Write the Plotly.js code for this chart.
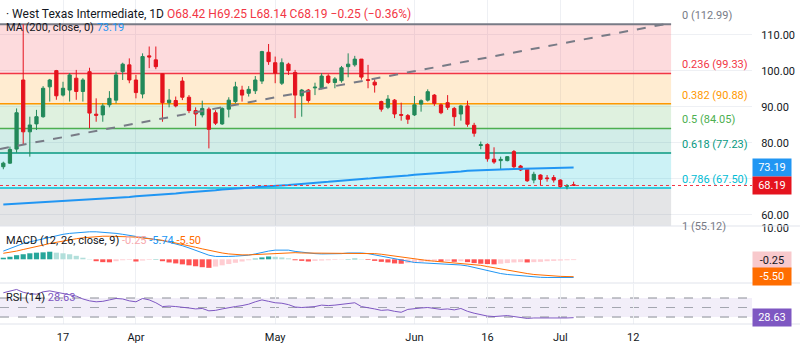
<!DOCTYPE html>
<html><head><meta charset="utf-8">
<script src="https://cdn.plot.ly/plotly-3.0.1.min.js"></script>
<style>html,body{margin:0;padding:0;background:#fff;}#chart{width:800px;height:358px;}</style>
</head><body><div id="chart"></div>
<script>
// ---- data (bar index 0..86, daily) ----
const barIdx = Array.from({length: 87}, (_, i) => i);
const openP  = [73.4,74.4,78.3,97.5,83.1,85.3,87.3,95.6,100.1,93.3,94.7,98.0,94.3,99.8,88.0,87.8,90.6,91.9,99.8,101.7,97.5,93.6,104.2,103.1,99.2,91.2,91.8,97.2,92.7,89.0,87.8,89.4,88.4,85.3,89.4,91.5,94.7,93.8,94.5,97.2,105.2,102.3,96.6,101.9,99.6,93.1,94.7,95.3,95.2,98.6,96.8,97.3,101.2,101.7,103.3,97.6,96.9,91.5,89.9,91.9,87.9,87.6,87.8,90.8,91.9,93.3,90.6,91.2,89.6,88.05,90.3,84.9,79.3,79.6,75.5,75.1,75.1,77.6,73.6,72.7,69.7,71.1,70.3,70.4,69.7,68.0,68.42];
const highP  = [74.8,79.0,89.6,112.99,87.3,89.2,95.8,97.8,100.3,97.0,99.4,100.3,98.0,100.9,92.4,91.0,94.4,99.8,102.3,103.5,98.9,104.9,106.8,106.8,99.4,95.0,92.9,98.3,93.3,89.9,91.75,89.9,89.1,89.9,92.7,97.0,95.9,95.8,98.6,105.6,107.5,104.0,103.5,102.3,100.3,95.0,95.0,96.75,99.4,99.1,98.3,101.4,104.9,104.2,103.3,101.7,97.7,91.75,93.3,92.2,91.2,88.05,93.05,92.1,94.9,93.6,91.0,93.3,90.0,90.6,91.75,85.6,80.4,79.9,78.8,76.2,76.3,78.05,73.9,73.0,72.0,71.3,71.1,71.1,69.9,68.6,69.25];
const lowP   = [72.7,74.2,77.3,79.7,76.2,83.6,87.0,91.5,92.0,92.9,91.5,92.0,91.5,84.1,85.9,85.9,89.9,91.0,97.5,96.6,92.4,92.4,100.8,100.5,85.9,89.9,89.9,91.9,88.3,84.7,87.1,78.5,85.0,85.0,87.1,91.0,91.5,92.9,93.6,96.4,101.7,96.6,96.1,98.9,86.9,87.3,91.2,93.3,94.9,96.4,95.2,96.75,98.25,101.2,97.6,95.2,94.0,88.7,89.4,86.9,86.2,85.3,87.5,88.7,91.5,90.3,88.0,89.2,84.7,86.2,84.5,81.75,78.25,74.8,74.2,72.7,74.9,72.7,72.2,69.2,68.8,68.3,69.25,69.0,67.6,67.1,68.14];
const closeP = [74.4,78.2,88.4,83.1,85.0,87.3,95.2,97.5,93.1,95.2,98.9,94.3,97.5,88.3,87.7,90.3,92.4,98.9,101.9,97.5,94.0,104.0,103.9,101.2,91.2,91.9,90.3,92.7,89.0,88.05,89.6,83.8,85.5,89.6,91.9,95.6,93.3,94.9,97.5,105.4,102.6,99.4,102.3,100.1,93.3,94.7,91.8,95.5,98.6,96.8,97.8,100.9,101.9,103.3,98.3,97.4,96.1,89.4,92.2,88.05,87.7,86.6,90.6,91.75,94.25,91.0,88.4,89.9,87.3,90.3,85.2,82.7,79.5,75.6,74.7,75.45,76.2,73.4,72.5,69.5,71.3,69.9,70.1,69.7,67.9,68.1,68.19];
const ma200  = [62.9,63.0,63.1,63.3,63.4,63.5,63.6,63.7,63.8,63.9,64.0,64.1,64.2,64.3,64.4,64.6,64.7,64.8,64.9,65.0,65.2,65.3,65.4,65.6,65.7,65.9,66.0,66.2,66.3,66.5,66.6,66.8,66.9,67.1,67.2,67.3,67.5,67.6,67.8,67.9,68.0,68.1,68.2,68.3,68.5,68.6,68.8,68.9,69.1,69.2,69.4,69.5,69.7,69.8,70.0,70.1,70.3,70.4,70.6,70.7,70.9,71.0,71.2,71.3,71.5,71.6,71.75,71.9,72.0,72.1,72.3,72.4,72.5,72.55,72.6,72.65,72.7,72.75,72.8,72.85,72.9,72.95,73.0,73.05,73.1,73.15,73.19];
const macdLine = [2.6,3.4,4.3,5.0,5.5,6.0,6.6,7.1,7.6,7.9,8.2,8.4,8.6,8.7,8.7,8.6,8.4,8.2,7.9,7.6,7.3,7.0,6.7,6.3,5.9,5.4,4.9,4.3,3.6,2.8,2.0,1.3,0.9,0.8,0.9,1.0,1.1,1.3,1.7,2.2,2.6,2.9,3.0,2.9,2.5,2.2,1.9,1.8,1.7,1.7,1.7,1.8,2.0,2.1,2.0,1.8,1.4,0.9,0.4,0.0,-0.4,-0.8,-1.0,-1.1,-1.2,-1.3,-1.3,-1.4,-1.6,-1.8,-2.1,-2.6,-3.2,-3.7,-4.2,-4.5,-4.8,-5.0,-5.2,-5.4,-5.6,-5.7,-5.75,-5.8,-5.8,-5.78,-5.74];
const signalLine = [1.9,2.2,2.6,3.1,3.5,4.0,4.5,5.0,5.4,5.9,6.2,6.5,6.8,7.0,7.2,7.3,7.3,7.3,7.2,7.1,7.0,6.8,6.6,6.3,6.0,5.6,5.2,4.8,4.3,3.8,3.3,2.8,2.4,2.0,1.7,1.5,1.4,1.4,1.5,1.6,1.7,1.9,2.0,2.1,2.1,2.0,2.0,1.9,1.9,1.8,1.8,1.8,1.8,1.9,1.9,1.9,1.8,1.6,1.3,1.0,0.6,0.3,0.0,-0.2,-0.4,-0.6,-0.8,-0.9,-1.0,-1.2,-1.4,-1.6,-1.9,-2.3,-2.7,-3.1,-3.5,-3.9,-4.2,-4.5,-4.8,-5.0,-5.2,-5.3,-5.4,-5.45,-5.50];
const macdHist = [0.5,0.8,1.3,1.6,1.9,2.1,2.2,2.4,2.1,1.9,1.6,1.1,0.5,0.1,-0.6,-0.9,-0.95,-0.6,-0.3,-0.2,-0.7,-0.4,-0.2,0.1,-0.6,-1.0,-1.3,-1.6,-1.9,-2.2,-2.5,-2.7,-2.3,-1.9,-1.5,-1.1,-0.7,-0.3,0.2,0.6,0.9,0.8,0.6,0.3,-0.3,-0.5,-0.7,-0.5,-0.4,-0.3,-0.2,-0.1,0.1,0.2,0.1,-0.2,-0.5,-0.8,-1.0,-1.3,-1.4,-1.2,-1.0,-0.8,-0.7,-0.6,-0.8,-0.6,-0.8,-0.6,-0.9,-1.2,-1.4,-1.5,-1.6,-1.4,-1.2,-1.0,-0.9,-1.0,-0.9,-0.8,-0.6,-0.5,-0.4,-0.3,-0.25];
const rsi14 = [81,84,88,82,79,78,83,85,82,80,77,74,68,64,62,63,66,69,68,64,62,69,66,60,52,53,52,51,49,47,48,43,44,47,50,52,54,57,62,66,63,60,59,56,51,50,51,52,55,54,55,57,58,60,52,50,47,44,45,42,40,46,48,49,50,48,46,47,45,48,42,38,35,32,31,32,33,31,29,27,28,28,28,27,27,28,28.63];

// Fibonacci retracement drawing
const fibRatios = [0, 0.236, 0.382, 0.5, 0.618, 0.786, 1];
const fibPrices = [112.99, 99.33, 90.88, 84.05, 77.23, 67.50, 55.12];
const fibStartIdx = -0.5, fibEndIdx = 100.7;
// dashed trend line drawing
const trendX = [-0.5, 100.7];
const trendY = [78.33, 113.33];
// axis ticks
const xTickVals = [9, 20, 41, 62, 73, 84, 95];
const xTickText = ['17', 'Apr', 'May', 'Jun', '16', 'Jul', '12'];
const priceTicks = [60, 70, 80, 90, 100, 110];
const priceTickText = ['60.00', '', '80.00', '90.00', '100.00', '110.00'];
const lastClose = 68.19, lastMA = 73.19, lastHist = -0.25, lastMacd = -5.74, lastSignal = -5.50, lastRsi = 28.63;

// ---- styling ----
const FONT = 'Roboto, "Noto Sans", sans-serif';
const TXT = '#131722';
const fibColors = ['#787b86', '#f23645', '#ff9800', '#4caf50', '#089981', '#00bcd4', '#787b86'];
const fibFills = ['', 'rgba(242,54,69,0.18)', 'rgba(255,152,0,0.18)', 'rgba(76,175,80,0.18)', 'rgba(8,153,129,0.18)', 'rgba(0,188,212,0.2)', 'rgba(120,123,134,0.2)'];
const UP = '#22895a', DOWN = '#e5131e';

const histColors = macdHist.map((v, i) => {
  const prev = i > 0 ? macdHist[i - 1] : v;
  if (v >= 0) return v >= prev ? '#26a69a' : '#b2dfdb';
  return v <= prev ? '#ff5252' : '#ffcdd2';
});

const traces = [
  {type: 'scatter', mode: 'lines', x: trendX, y: trendY, xaxis: 'x', yaxis: 'y',
   line: {color: '#787b86', width: 2, dash: 'dash'}, hoverinfo: 'skip'},
  {type: 'scatter', mode: 'lines', x: barIdx, y: ma200, xaxis: 'x', yaxis: 'y',
   line: {color: '#2196f3', width: 2}, hoverinfo: 'skip'},
  {type: 'candlestick', x: barIdx, open: openP, high: highP, low: lowP, close: closeP,
   xaxis: 'x', yaxis: 'y', whiskerwidth: 0,
   increasing: {line: {color: UP, width: 1}, fillcolor: UP},
   decreasing: {line: {color: DOWN, width: 1}, fillcolor: DOWN}, hoverinfo: 'skip'},
  {type: 'bar', x: barIdx, y: macdHist, xaxis: 'x', yaxis: 'y2', width: 0.78,
   marker: {color: histColors, line: {width: 0}}, hoverinfo: 'skip'},
  {type: 'scatter', mode: 'lines', x: barIdx, y: macdLine, xaxis: 'x', yaxis: 'y2',
   line: {color: '#2196f3', width: 1}, hoverinfo: 'skip'},
  {type: 'scatter', mode: 'lines', x: barIdx, y: signalLine, xaxis: 'x', yaxis: 'y2',
   line: {color: '#ff6d00', width: 1}, hoverinfo: 'skip'},
  {type: 'scatter', mode: 'lines', x: barIdx, y: rsi14, xaxis: 'x', yaxis: 'y3',
   line: {color: '#7e57c2', width: 1}, hoverinfo: 'skip'}
];

const shapes = [];
for (let k = 1; k < fibPrices.length; k++) {
  shapes.push({type: 'rect', xref: 'x', yref: 'y', x0: fibStartIdx, x1: fibEndIdx,
    y0: fibPrices[k], y1: fibPrices[k - 1], fillcolor: fibFills[k], line: {width: 0}, layer: 'between'});
}
for (let k = 0; k < fibPrices.length; k++) {
  shapes.push({type: 'line', xref: 'x', yref: 'y', x0: fibStartIdx, x1: fibEndIdx,
    y0: fibPrices[k], y1: fibPrices[k], line: {color: fibColors[k], width: k === 0 ? 2 : 1.5}, layer: 'between'});
}
shapes.push({type: 'line', xref: 'paper', yref: 'y', x0: 0, x1: 1, y0: lastClose, y1: lastClose,
  line: {color: '#f23645', width: 1, dash: 'dot'}});
shapes.push({type: 'rect', xref: 'paper', yref: 'y3', x0: 0, x1: 1, y0: 30, y1: 70,
  fillcolor: 'rgba(126,87,194,0.1)', line: {width: 0}, layer: 'below'});
[70, 50, 30].forEach(v => shapes.push({type: 'line', xref: 'paper', yref: 'y3', x0: 0, x1: 1, y0: v, y1: v,
  line: {color: v === 50 ? '#a3a6af' : '#8a8d96', width: 1, dash: 'dash'}, layer: 'below'}));
[0.3025, 0.1265, 0].forEach(p => shapes.push({type: 'line', xref: 'paper', yref: 'paper', x0: 0, x1: 1.0638,
  y0: p, y1: p, line: {color: '#e0e3eb', width: 1}}));

const annotations = [];
for (let k = 0; k < fibPrices.length; k++) {
  const outside = fibPrices[k] < 56.94;
  annotations.push({xref: 'x', yref: 'y', x: 102.1, y: outside ? 56.94 : fibPrices[k], xanchor: 'left',
    yanchor: outside ? 'middle' : 'bottom', yshift: outside ? -1 : 0,
    showarrow: false, text: fibRatios[k] + ' (' + fibPrices[k].toFixed(2) + ')',
    font: {family: FONT, size: 11, color: fibColors[k]}});
}
function box(yref, y, text, bg, col) {
  annotations.push({xref: 'paper', x: 1, xanchor: 'left', yref: yref, y: y, yanchor: 'middle', showarrow: false,
    text: text, bgcolor: bg, borderpad: 2, width: 34, align: 'center', font: {family: FONT, size: 11, color: col}});
}
box('y', lastMA, lastMA.toFixed(2), '#2196f3', '#ffffff');
box('y', lastClose, lastClose.toFixed(2), '#e5131e', '#ffffff');
box('y2', lastHist, lastHist.toFixed(2), '#f8c9cc', TXT);
box('y2', lastSignal, lastSignal.toFixed(2), '#ff6d00', '#ffffff');
box('y3', lastRsi, lastRsi.toFixed(2), '#7e57c2', '#ffffff');

function legend(yPix, html, size) {
  annotations.push({xref: 'paper', yref: 'paper', x: 0, y: 1 - yPix / 324, xanchor: 'left', yanchor: 'middle',
    xshift: 4, showarrow: false, text: html, font: {family: FONT, size: size, color: TXT}});
}
const R = '#f23645';
legend(14, '· West Texas Intermediate, 1D <span style="color:' + R + '">O' + openP[86].toFixed(2) + ' H' + highP[86].toFixed(2) +
  ' L' + lowP[86].toFixed(2) + ' C' + closeP[86].toFixed(2) + ' −0.25 (−0.36%)</span>', 12);
legend(28, 'MA (200, close, 0) <span style="color:#2196f3">' + lastMA.toFixed(2) + '</span>', 11);
legend(240, 'MACD (12, 26, close, 9) <span style="color:#f7a9ae">' + lastHist.toFixed(2) + '</span> <span style="color:#2196f3">' +
  lastMacd.toFixed(2) + '</span> <span style="color:#ff6d00">' + lastSignal.toFixed(2) + '</span>', 11);
legend(297, 'RSI (14) <span style="color:#7e57c2">' + lastRsi.toFixed(2) + '</span>', 11);

const layout = {
  width: 800, height: 358, margin: {l: 0, r: 48, t: 0, b: 34},
  paper_bgcolor: '#ffffff', plot_bgcolor: '#ffffff', showlegend: false,
  font: {family: FONT, size: 11, color: TXT},
  xaxis: {range: [-0.5, 112.9], anchor: 'y3', tickvals: xTickVals, ticktext: xTickText,
    showgrid: true, gridcolor: '#eef0f4', gridwidth: 1, zeroline: false, showline: false,
    ticks: 'outside', ticklen: 3, tickcolor: 'rgba(0,0,0,0)', tickfont: {size: 11, color: TXT},
    rangeslider: {visible: false}, fixedrange: true},
  yaxis: {domain: [0.3025, 1], range: [56.94, 119.72], side: 'right', anchor: 'x',
    tickvals: priceTicks, ticktext: priceTickText,
    showgrid: true, gridcolor: '#eef0f4', zeroline: false, showline: false,
    ticks: 'outside', ticklen: 6, tickcolor: 'rgba(0,0,0,0)', tickfont: {size: 11, color: TXT}},
  yaxis2: {domain: [0.1265, 0.2994], range: [-7.5, 10.22], side: 'right', anchor: 'x',
    tickvals: [10], ticktext: ['10.00'], showgrid: false, zeroline: false,
    ticks: 'outside', ticklen: 6, tickcolor: 'rgba(0,0,0,0)', tickfont: {size: 11, color: TXT}},
  yaxis3: {domain: [0, 0.1235], range: [15.3, 99.5], side: 'right', anchor: 'x',
    showticklabels: false, showgrid: false, zeroline: false},
  bargap: 0.2, boxgap: 0.3,
  shapes: shapes, annotations: annotations
};

Plotly.newPlot('chart', traces, layout, {staticPlot: true, displayModeBar: false});
</script>
</body></html>
